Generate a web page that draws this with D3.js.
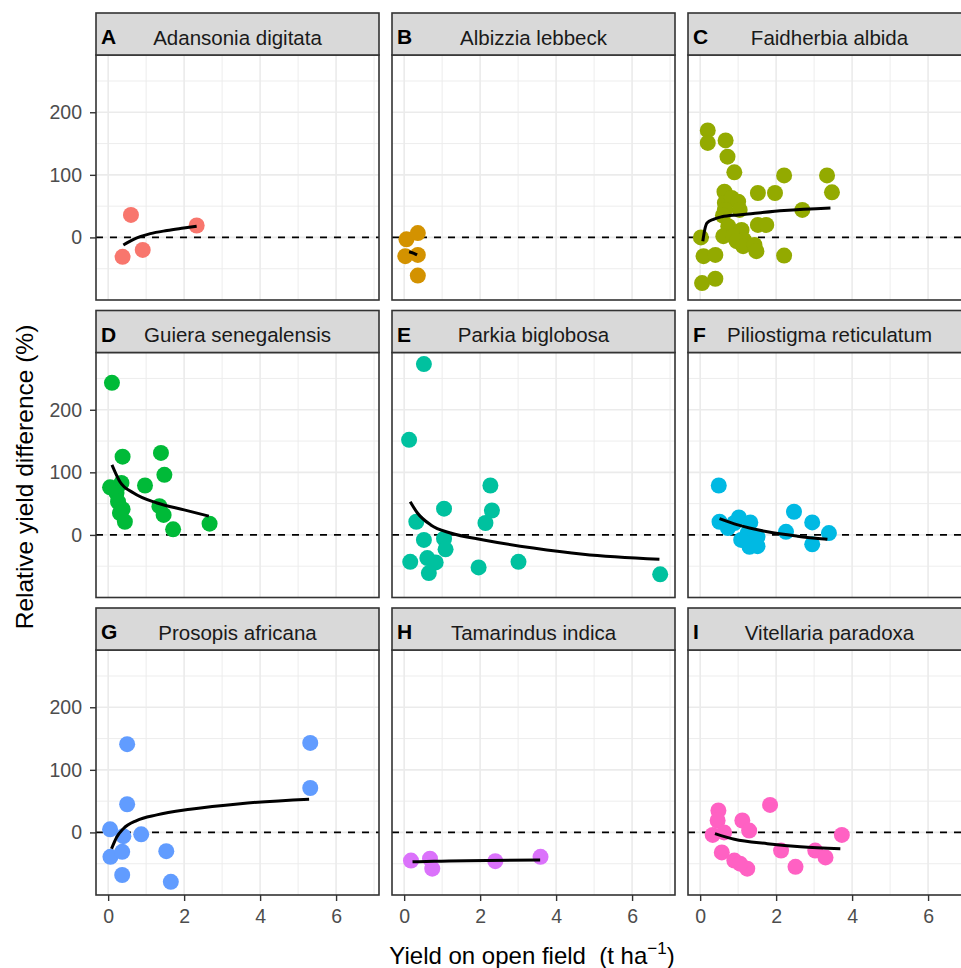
<!DOCTYPE html>
<html>
<head>
<meta charset="utf-8">
<script src="https://cdn.jsdelivr.net/npm/d3@7"></script>
<style>
  html, body { margin: 0; padding: 0; background: #fff; }
  svg { display: block; font-family: "Liberation Sans", Arial, sans-serif; }
</style>
</head>
<body>
<svg id="chart" width="961" height="968"></svg>
<script>
// ---------------- DATA ----------------
const letters = ["A", "B", "C", "D", "E", "F", "G", "H", "I"];
const species = ["Adansonia digitata", "Albizzia lebbeck", "Faidherbia albida",
                 "Guiera senegalensis", "Parkia biglobosa", "Piliostigma reticulatum",
                 "Prosopis africana", "Tamarindus indica", "Vitellaria paradoxa"];
const palette = ["#F8766D", "#D39200", "#93AA00", "#00BA38", "#00C19F",
                 "#00B9E3", "#619CFF", "#DB72FB", "#FF61C3"];

const xTicks = [0, 2, 4, 6];
const xMinor = [1, 3, 5, 7];
const yTicks = [0, 100, 200];
const yMinor = [-50, 50, 150, 250];

// points: [yield on open field (t/ha), relative yield difference (%)]
const ptsA = [[0.38, -31], [0.6, 36], [0.91, -20], [2.33, 19]];
const ptsB = [[0.06, -3], [0.36, 7], [0.03, -30], [0.36, -28], [0.36, -61]];
const ptsC = [[0.2, 171], [0.2, 151], [0.67, 155], [0.72, 129], [0.9, 104], [2.21, 99],
              [3.34, 99], [3.47, 72], [1.52, 71], [1.97, 71], [0.64, 73], [0.65, 55],
              [0.83, 63], [1.0, 57], [2.69, 44], [1.04, 44], [0.65, 44], [0.6, 35],
              [0.74, 18], [1.52, 20], [1.74, 20], [1.09, 12], [0.61, 2], [0.87, 2],
              [0.02, 0], [1.15, -4], [0.96, -6], [1.13, -14], [1.43, -12], [1.48, -22],
              [2.21, -29], [0.09, -30], [0.4, -28], [0.05, -73], [0.4, -66]];
const ptsD = [[0.1, 243], [0.38, 125], [1.39, 131], [1.48, 96], [0.97, 79], [0.05, 76],
              [0.35, 83], [0.22, 67], [0.26, 53], [0.38, 41], [0.31, 35], [0.44, 21],
              [1.35, 46], [1.46, 32], [1.71, 9], [2.67, 18]];
const ptsE = [[0.52, 273], [0.13, 152], [2.27, 79], [2.31, 39], [2.14, 19], [1.05, 42],
              [0.32, 21], [0.52, -8], [1.05, -6], [1.09, -23], [0.16, -43], [0.61, -37],
              [0.83, -44], [0.65, -61], [1.96, -52], [3.01, -43], [6.74, -63]];
const ptsF = [[0.49, 79], [0.51, 21], [0.73, 11], [1.02, 28], [1.32, 20], [1.25, 3],
              [1.51, -3], [1.3, -19], [1.51, -18], [0.9, 19], [2.47, 37], [2.26, 5],
              [2.95, 20], [2.95, -15], [3.39, 3], [1.08, -8]];
const ptsG = [[0.5, 141], [5.32, 143], [5.32, 71], [0.5, 45], [0.05, 5], [0.4, -6],
              [0.87, -3], [0.06, -39], [0.37, -31], [1.53, -30], [0.37, -68], [1.65, -79]];
const ptsH = [[0.18, -45], [0.68, -42], [0.74, -58], [2.4, -46], [3.59, -39]];
const ptsI = [[0.48, 35], [0.46, 19], [0.33, -4], [0.63, 0], [1.11, 19], [1.29, 3],
              [1.84, 44], [0.57, -32], [0.9, -45], [1.24, -58], [1.05, -50], [2.13, -29],
              [2.51, -55], [3.03, -29], [3.3, -40], [3.73, -4]];

// fitted curves
const fitA = [[0.4, -12], [0.67, -3], [1.11, 6], [1.55, 11], [1.99, 15], [2.33, 18]];
const fitB = [[0.13, -23], [0.24, -25], [0.34, -28]];
const fitC = [[0.07, -6], [0.12, 12], [0.18, 23], [0.35, 29], [0.57, 33], [1.0, 36],
              [1.34, 38], [2.21, 43], [3.43, 47]];
const fitD = [[0.1, 112], [0.31, 85], [0.67, 67], [1.29, 51], [2.0, 40], [2.65, 30]];
const fitE = [[0.16, 53], [0.35, 35], [0.7, 16], [1.22, 3], [2.09, -8], [3.4, -21],
              [4.71, -31], [6.72, -39]];
const fitF = [[0.51, 26], [0.99, 16], [1.77, 5], [2.56, -2], [3.35, -7]];
const fitG = [[0.09, -26], [0.22, -8], [0.4, 6], [0.75, 19], [1.28, 28], [2.16, 37],
              [3.48, 46], [5.29, 53]];
const fitH = [[0.22, -47], [0.79, -46], [3.58, -44]];
const fitI = [[0.39, -2], [0.9, -11], [1.77, -18], [2.64, -23], [3.69, -26]];

const allPts = [ptsA, ptsB, ptsC, ptsD, ptsE, ptsF, ptsG, ptsH, ptsI];
const allFits = [fitA, fitB, fitC, fitD, fitE, fitF, fitG, fitH, fitI];

const xTitle = "Yield on open field  (t ha";
const yTitle = "Relative yield difference (%)";

// ---------------- LAYOUT ----------------
const svg = d3.select("#chart");
const colLeft = [96, 392, 688];
const panelW = 283;
const rowTop0 = 13, rowStep = 297.5;
const stripH = 42, plotH = 245;
const border = "#333333";

const x = d3.scaleLinear().domain([-0.32, 7.13]).range([0, panelW]);
const y = d3.scaleLinear().domain([-100, 291.5]).range([plotH, 0]);

const line = d3.line().x(d => x(d[0])).y(d => y(d[1])).curve(d3.curveMonotoneX);

svg.append("rect").attr("width", 961).attr("height", 968).attr("fill", "#fff");

const clipDefs = svg.append("defs");
clipDefs.append("clipPath").attr("id", "plotclip")
  .append("rect").attr("x", 0).attr("y", 0).attr("width", panelW).attr("height", plotH);

for (let i = 0; i < 9; i++) {
  const col = i % 3, row = Math.floor(i / 3);
  const left = colLeft[col];
  const top = rowTop0 + row * rowStep;
  const g = svg.append("g").attr("transform", `translate(${left},${top + stripH})`);

  // panel background + grid
  g.append("rect").attr("width", panelW).attr("height", plotH).attr("fill", "#fff");
  const grid = g.append("g");
  grid.selectAll(".vmin").data(xMinor).join("line")
    .attr("x1", d => x(d)).attr("x2", d => x(d)).attr("y1", 0).attr("y2", plotH)
    .attr("stroke", "#ebebeb").attr("stroke-width", 0.9);
  grid.selectAll(".hmin").data(yMinor).join("line")
    .attr("y1", d => y(d)).attr("y2", d => y(d)).attr("x1", 0).attr("x2", panelW)
    .attr("stroke", "#ebebeb").attr("stroke-width", 0.9);
  grid.selectAll(".vmaj").data(xTicks).join("line")
    .attr("x1", d => x(d)).attr("x2", d => x(d)).attr("y1", 0).attr("y2", plotH)
    .attr("stroke", "#ebebeb").attr("stroke-width", 1.6);
  grid.selectAll(".hmaj").data(yTicks).join("line")
    .attr("y1", d => y(d)).attr("y2", d => y(d)).attr("x1", 0).attr("x2", panelW)
    .attr("stroke", "#ebebeb").attr("stroke-width", 1.6);

  const inner = g.append("g").attr("clip-path", "url(#plotclip)");
  // zero reference line
  inner.append("line").attr("x1", 0).attr("x2", panelW)
    .attr("y1", y(0)).attr("y2", y(0))
    .attr("stroke", "#000").attr("stroke-width", 1.8).attr("stroke-dasharray", "7,7");
  // points
  inner.selectAll("circle").data(allPts[i]).join("circle")
    .attr("cx", d => x(d[0])).attr("cy", d => y(d[1])).attr("r", 8)
    .attr("fill", palette[i]);
  // fit line
  inner.append("path").datum(allFits[i]).attr("d", line)
    .attr("fill", "none").attr("stroke", "#000").attr("stroke-width", 3);

  // panel border
  g.append("rect").attr("width", panelW).attr("height", plotH)
    .attr("fill", "none").attr("stroke", border).attr("stroke-width", 1.6);

  // strip
  const s = svg.append("g").attr("transform", `translate(${left},${top})`);
  s.append("rect").attr("width", panelW).attr("height", stripH)
    .attr("fill", "#d9d9d9").attr("stroke", border).attr("stroke-width", 1.6);
  s.append("text").attr("x", panelW / 2).attr("y", 31.5).attr("text-anchor", "middle")
    .attr("font-size", 20.5).attr("fill", "#1a1a1a").text(species[i]);
  s.append("text").attr("x", 5).attr("y", 31).attr("font-size", 21)
    .attr("font-weight", "bold").attr("fill", "#000").text(letters[i]);

  // axes
  if (col === 0) {
    const ax = g.append("g").call(d3.axisLeft(y).tickValues(yTicks).tickSize(6).tickPadding(8));
    ax.select(".domain").remove();
    ax.selectAll(".tick line").attr("stroke", border).attr("stroke-width", 1.4);
    ax.selectAll(".tick text").attr("font-size", 19.5).attr("fill", "#4d4d4d")
      .attr("font-family", "Liberation Sans, Arial, sans-serif");
  }
  if (row === 2) {
    const ax = g.append("g").attr("transform", `translate(0,${plotH})`)
      .call(d3.axisBottom(x).tickValues(xTicks).tickSize(6).tickPadding(8));
    ax.select(".domain").remove();
    ax.selectAll(".tick line").attr("stroke", border).attr("stroke-width", 1.4);
    ax.selectAll(".tick text").attr("font-size", 19.5).attr("fill", "#4d4d4d")
      .attr("font-family", "Liberation Sans, Arial, sans-serif");
  }
}

// axis titles
const xt = svg.append("text").attr("x", 532).attr("y", 964).attr("text-anchor", "middle")
  .attr("font-size", 24).attr("fill", "#000").style("white-space", "pre");
xt.append("tspan").text(xTitle);
xt.append("tspan").attr("font-size", 17).attr("dy", -10).text("\u22121");
xt.append("tspan").attr("dy", 10).text(")");

svg.append("text").attr("transform", "translate(33,477) rotate(-90)")
  .attr("text-anchor", "middle").attr("font-size", 24.5).attr("fill", "#000")
  .text(yTitle);
</script>
</body>
</html>
